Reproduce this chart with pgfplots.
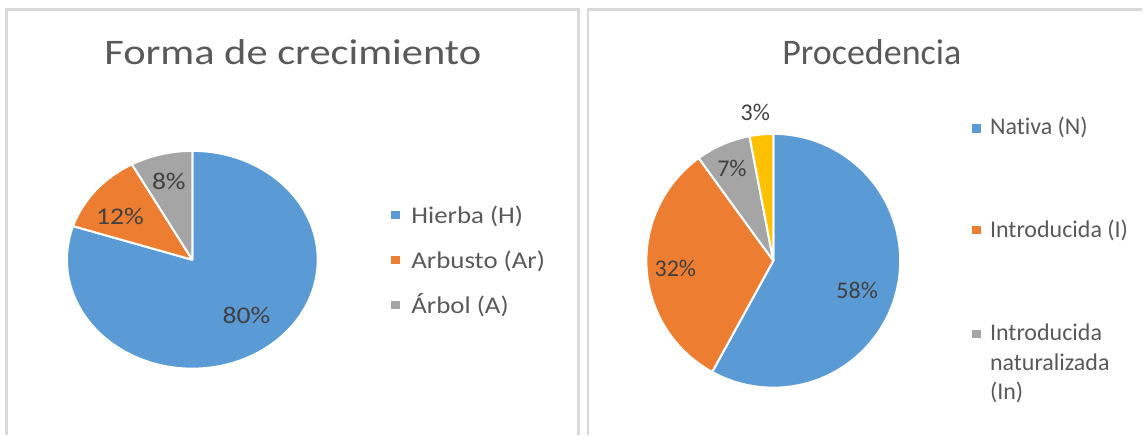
\documentclass[border=0pt]{standalone}
\usepackage{fontspec}
\setmainfont{Carlito}[Ligatures={NoCommon,NoRequired,NoContextual}]
\usepackage{pgfplots}
\pgfplotsset{compat=1.18}
\definecolor{cblue}{HTML}{5B9BD5}
\definecolor{corange}{HTML}{ED7D31}
\definecolor{cgray}{HTML}{A5A5A5}
\definecolor{cyellow}{HTML}{FFC000}
\definecolor{ctext}{HTML}{595959}
\definecolor{clabel}{HTML}{404040}
\definecolor{cborder}{HTML}{D9D9D9}
% #1 cx, #2 cy, #3 rx, #4 ry (px), #5 start (percent), #6 value (percent), #7 colour
\newcommand{\slice}[7]{%
  \fill[#7, draw=white, line width=1.5pt, line join=round]
    (axis cs:#1,#2) -- ++({90-3.6*(#5)}:{#3*0.75pt} and {#4*0.75pt})
    arc[start angle={90-3.6*(#5)}, end angle={90-3.6*((#5)+(#6))},
        x radius={#3*0.75pt}, y radius={#4*0.75pt}] -- cycle;}
\begin{document}
\begin{tikzpicture}
\begin{axis}[
  width=857.25pt, height=326.25pt, scale only axis,
  xmin=0, xmax=1143, ymin=0, ymax=435, y dir=reverse,
  hide axis, clip=false]
\path (axis cs:0,0) rectangle (axis cs:1143,435);
% panel borders
\draw[cborder, line width=1.6pt] (axis cs:6.5,435) -- (axis cs:6.5,9.5) -- (axis cs:579,9.5) -- (axis cs:579,435);
\draw[cborder, line width=1.6pt] (axis cs:588.5,435) -- (axis cs:588.5,9.5) -- (axis cs:1143,9.5);
% ---------- Forma de crecimiento ----------
\slice{192.5}{260}{125.5}{109}{0}{80}{cblue}
\slice{192.5}{260}{125.5}{109}{80}{12}{corange}
\slice{192.5}{260}{125.5}{109}{92}{8}{cgray}
\node[anchor=base, inner sep=0, text=ctext, font=\fontsize{27pt}{31pt}\selectfont, xscale=1.18] at (axis cs:293,65) {Forma de crecimiento};
\node[anchor=base, inner sep=0, text=clabel, font=\fontsize{18pt}{21pt}\selectfont, xscale=1.15] at (axis cs:246.7,323.3) {80\%};
\node[anchor=base, inner sep=0, text=clabel, font=\fontsize{18pt}{21pt}\selectfont, xscale=1.15] at (axis cs:120,225) {12\%};
\node[anchor=base, inner sep=0, text=clabel, font=\fontsize{18pt}{21pt}\selectfont, xscale=1.15] at (axis cs:169,189.3) {8\%};
\fill[cblue] (axis cs:391,211) rectangle (axis cs:400,219.5);
\fill[corange] (axis cs:391,256) rectangle (axis cs:400,264.5);
\fill[cgray] (axis cs:391,301) rectangle (axis cs:400,309.5);
\node[anchor=base west, inner sep=0, text=ctext, font=\fontsize{18pt}{21pt}\selectfont, xscale=1.12] at (axis cs:411.5,223.3) {Hierba (H)};
\node[anchor=base west, inner sep=0, text=ctext, font=\fontsize{18pt}{21pt}\selectfont, xscale=1.12] at (axis cs:411.5,268.3) {Arbusto (Ar)};
\node[anchor=base west, inner sep=0, text=ctext, font=\fontsize{18pt}{21pt}\selectfont, xscale=1.12] at (axis cs:411.5,313.3) {Árbol (A)};
% ---------- Procedencia ----------
\slice{774}{261}{127}{127}{0}{58}{cblue}
\slice{774}{261}{127}{127}{58}{32}{corange}
\slice{774}{261}{127}{127}{90}{7}{cgray}
\slice{774}{261}{127}{127}{97}{3}{cyellow}
\node[anchor=base, inner sep=0, text=ctext, font=\fontsize{27pt}{31pt}\selectfont] at (axis cs:872.6,65) {Procedencia};
\node[anchor=base, inner sep=0, text=clabel, font=\fontsize{18pt}{21pt}\selectfont] at (axis cs:858,298.3) {58\%};
\node[anchor=base, inner sep=0, text=clabel, font=\fontsize{18pt}{21pt}\selectfont] at (axis cs:676,276.7) {32\%};
\node[anchor=base, inner sep=0, text=clabel, font=\fontsize{18pt}{21pt}\selectfont] at (axis cs:732.6,176.7) {7\%};
\node[anchor=base, inner sep=0, text=clabel, font=\fontsize{18pt}{21pt}\selectfont] at (axis cs:756,120.7) {3\%};
\fill[cblue] (axis cs:973,124) rectangle (axis cs:982,132.7);
\fill[corange] (axis cs:973,226) rectangle (axis cs:982,234.7);
\fill[cgray] (axis cs:973,330) rectangle (axis cs:982,338.7);
\node[anchor=base west, inner sep=0, text=ctext, font=\fontsize{18pt}{21pt}\selectfont] at (axis cs:990.7,135) {Nativa (N)};
\node[anchor=base west, inner sep=0, text=ctext, font=\fontsize{18pt}{21pt}\selectfont] at (axis cs:990.7,237.3) {Introducida (I)};
\node[anchor=base west, inner sep=0, text=ctext, font=\fontsize{18pt}{21pt}\selectfont] at (axis cs:990.7,341) {Introducida};
\node[anchor=base west, inner sep=0, text=ctext, font=\fontsize{18pt}{21pt}\selectfont] at (axis cs:990.7,370.5) {naturalizada};
\node[anchor=base west, inner sep=0, text=ctext, font=\fontsize{18pt}{21pt}\selectfont] at (axis cs:990.7,400) {(In)};
\end{axis}
\end{tikzpicture}
\end{document}
